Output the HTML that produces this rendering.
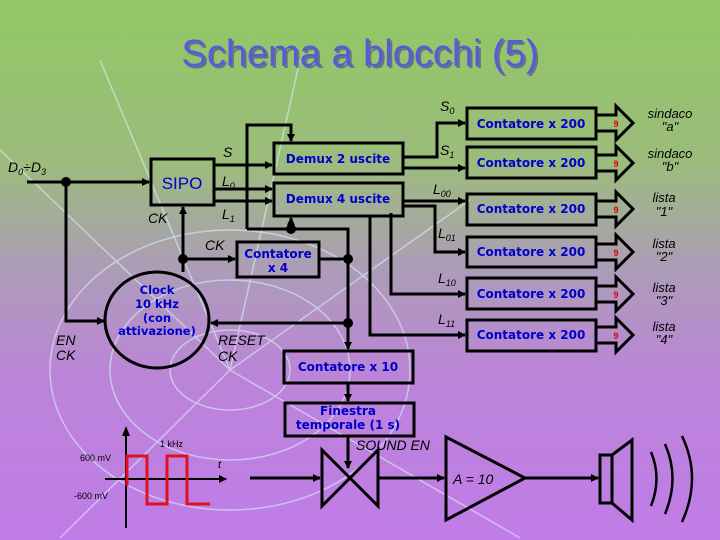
<!DOCTYPE html>
<html><head><meta charset="utf-8"><style>
html,body{margin:0;padding:0;width:720px;height:540px;overflow:hidden;}
svg{display:block;font-family:"Liberation Sans",sans-serif;}
.b{fill:#0000cc;font-weight:bold;font-family:"DejaVu Sans","Liberation Sans",sans-serif;}
.i{font-style:italic;fill:#000;}
</style></head><body>
<svg width="720" height="540" viewBox="0 0 720 540" xmlns="http://www.w3.org/2000/svg">
<defs>
<linearGradient id="bg" x1="0" y1="0" x2="0" y2="1">
<stop offset="0" stop-color="#90c864"/>
<stop offset="0.3" stop-color="#9cbc7c"/>
<stop offset="0.5" stop-color="#ac9cb8"/>
<stop offset="0.7" stop-color="#bc84d8"/>
<stop offset="1" stop-color="#c07ce8"/>
</linearGradient>
<marker id="a" markerWidth="8" markerHeight="8" refX="7" refY="4" orient="auto" markerUnits="userSpaceOnUse"><path d="M0,0 L8,4 L0,8 z" fill="#000"/></marker>
</defs>
<rect width="720" height="540" fill="url(#bg)"/>
<g fill="none" stroke="#d8f0f8" stroke-width="1.5" opacity="0.6">
<ellipse cx="230" cy="370" rx="60" ry="40"/><ellipse cx="230" cy="370" rx="120" ry="90"/>
<ellipse cx="230" cy="370" rx="180" ry="140"/>
<path d="M230,370 L0,150 M230,370 L100,60 M230,370 L300,60 M230,370 L470,200 M230,370 L520,538 M230,370 L60,538"/>
</g>
<text x="360" y="66" text-anchor="middle" font-size="38" fill="#303090" opacity="0.5" transform="translate(2,2)">Schema a blocchi (5)</text>
<text x="360" y="66" text-anchor="middle" font-size="38" fill="#5a5ad8">Schema a blocchi (5)</text>

<g fill="none" stroke="#000" stroke-width="3">
<rect x="151" y="159" width="63" height="46"/>
<rect x="274" y="143" width="129" height="31"/>
<rect x="274" y="183" width="129" height="33"/>
<rect x="237" y="242" width="82" height="35"/>
<ellipse cx="157" cy="320" rx="52" ry="48"/>
<rect x="284" y="351" width="129" height="32"/>
<rect x="285" y="403" width="129" height="33"/>
<rect x="467" y="108" width="129" height="31"/>
<rect x="467" y="147" width="129" height="31"/>
<rect x="467" y="194" width="129" height="31"/>
<rect x="467" y="237" width="129" height="30"/>
<rect x="467" y="278" width="129" height="31"/>
<rect x="467" y="320" width="129" height="31"/>
</g>
<g fill="none" stroke="#000" stroke-width="3">
<path d="M596,115 H616 V106 L633,123 L616,140 V131 H596"/>
<path d="M596,155 H616 V146 L633,163 L616,180 V171 H596"/>
<path d="M596,201 H616 V192 L633,209 L616,226 V217 H596"/>
<path d="M596,244 H616 V235 L633,252 L616,269 V260 H596"/>
<path d="M596,286 H616 V277 L633,294 L616,311 V302 H596"/>
<path d="M596,327 H616 V318 L633,335 L616,352 V343 H596"/>
</g>
<g font-size="9" fill="#e00000" font-weight="bold" text-anchor="middle">
<text x="616" y="127">9</text><text x="616" y="167">9</text><text x="616" y="213">9</text>
<text x="616" y="256">9</text><text x="616" y="298">9</text><text x="616" y="339">9</text>
</g>
<g class="i" font-size="13" text-anchor="middle">
<text x="670" y="118">sindaco</text><text x="670" y="131">"a"</text>
<text x="670" y="158">sindaco</text><text x="670" y="171">"b"</text>
<text x="664" y="202">lista</text><text x="664" y="216">"1"</text>
<text x="664" y="248">lista</text><text x="664" y="261">"2"</text>
<text x="664" y="292">lista</text><text x="664" y="305">"3"</text>
<text x="664" y="331">lista</text><text x="664" y="344">"4"</text>
</g>

<g fill="none" stroke="#000" stroke-width="3">
<path d="M27,182 H149" marker-end="url(#a)"/>
<path d="M66,182 V321 H104" marker-end="url(#a)"/>
<path d="M214,165 H272" marker-end="url(#a)"/>
<path d="M214,189 H272" marker-end="url(#a)"/>
<path d="M214,201 H272" marker-end="url(#a)"/>
<path d="M247,229 V125 H291 V141"/>
<path d="M291,134 V141" marker-end="url(#a)"/>
<path d="M247,229 H348 V349" marker-end="url(#a)"/>
<path d="M291,229 V218" marker-end="url(#a)"/>
<path d="M183,272 V207" marker-end="url(#a)"/>
<path d="M183,259 H235" marker-end="url(#a)"/>
<path d="M319,259 H348"/>
<path d="M348,323 H211" marker-end="url(#a)"/>
<path d="M348,383 V401" marker-end="url(#a)"/>
<path d="M348,436 V468" marker-end="url(#a)"/>
<path d="M403,157 H437 V123 H465" marker-end="url(#a)"/>
<path d="M403,168 H465" marker-end="url(#a)"/>
<path d="M403,201 H465" marker-end="url(#a)"/>
<path d="M403,206 H435 V252 H465" marker-end="url(#a)"/>
<path d="M391,213 V294 H465" marker-end="url(#a)"/>
<path d="M370,216 V335 H465" marker-end="url(#a)"/>
<path d="M250,478 H320" marker-end="url(#a)"/>
<path d="M378,478 H444" marker-end="url(#a)"/>
<path d="M525,478 H598" marker-end="url(#a)"/>
<path d="M322,450 L378,506 V450 L322,506 Z"/>
<path d="M446,437 L525,478 L446,520 Z"/>
<rect x="600" y="455" width="12" height="48"/>
<path d="M612,455 L632,440 V520 L612,503"/>
<path d="M651,452 Q662,478 651,506" stroke-width="2.5"/>
<path d="M665,444 Q680,478 665,514" stroke-width="2.5"/>
<path d="M682,436 Q702,478 682,522" stroke-width="2.5"/>
<path d="M126,528 V430" stroke-width="2"/>
<path d="M105,479 H226" stroke-width="2" marker-end="url(#a)"/>
</g>
<path d="M122,436 L126,426 L130,436 Z" fill="#000"/>
<path d="M127,486 V456 H147 V504 H167 V456 H187 V504 H210" fill="none" stroke="#e01020" stroke-width="3"/>
<g fill="#000">
<circle cx="66" cy="182" r="5"/><circle cx="183" cy="259" r="5"/><circle cx="291" cy="229" r="5"/>
<circle cx="348" cy="259" r="5"/><circle cx="348" cy="323" r="5"/>
</g>

<g class="b" text-anchor="middle">
<text x="182" y="189" font-size="17" font-weight="normal" font-family="Liberation Sans,sans-serif">SIPO</text>
<text x="338" y="163" font-size="12">Demux 2 uscite</text>
<text x="338" y="203" font-size="12">Demux 4 uscite</text>
<text x="278" y="258" font-size="12">Contatore</text><text x="278" y="272" font-size="12">x 4</text>
<text x="157" y="294" font-size="11.5">Clock</text><text x="157" y="308" font-size="11.5">10 kHz</text>
<text x="157" y="322" font-size="11.5">(con</text><text x="157" y="335" font-size="11.5">attivazione)</text>
<text x="348" y="371" font-size="12">Contatore x 10</text>
<text x="348" y="415" font-size="12">Finestra</text><text x="348" y="429" font-size="12">temporale (1 s)</text>
<text x="531" y="128" font-size="12">Contatore x 200</text><text x="531" y="167" font-size="12">Contatore x 200</text>
<text x="531" y="213" font-size="12">Contatore x 200</text><text x="531" y="256" font-size="12">Contatore x 200</text>
<text x="531" y="298" font-size="12">Contatore x 200</text><text x="531" y="339" font-size="12">Contatore x 200</text>
</g>
<g class="i" font-size="14">
<text x="8" y="172">D<tspan font-size="9" dy="3">0</tspan><tspan dy="-3">÷D</tspan><tspan font-size="9" dy="3">3</tspan></text>
<text x="223" y="157">S</text>
<text x="222" y="186">L<tspan font-size="9" dy="3">0</tspan></text>
<text x="222" y="219">L<tspan font-size="9" dy="3">1</tspan></text>
<text x="148" y="223">CK</text>
<text x="205" y="250">CK</text>
<text x="56" y="345">EN</text><text x="56" y="360">CK</text>
<text x="218" y="345">RESET</text><text x="218" y="361">CK</text>
<text x="440" y="111">S<tspan font-size="9" dy="3">0</tspan></text>
<text x="440" y="155">S<tspan font-size="9" dy="3">1</tspan></text>
<text x="433" y="194">L<tspan font-size="9" dy="3">00</tspan></text>
<text x="438" y="238">L<tspan font-size="9" dy="3">01</tspan></text>
<text x="438" y="283">L<tspan font-size="9" dy="3">10</tspan></text>
<text x="438" y="324">L<tspan font-size="9" dy="3">11</tspan></text>
<text x="356" y="450">SOUND EN</text>
<text x="453" y="484">A = 10</text>
<text x="218" y="468" font-size="11">t</text>
</g>
<g font-size="9" fill="#000">
<text x="160" y="447">1 kHz</text>
<text x="80" y="461">600 mV</text>
<text x="74" y="499">-600 mV</text>
</g>
</svg>
</body></html>
